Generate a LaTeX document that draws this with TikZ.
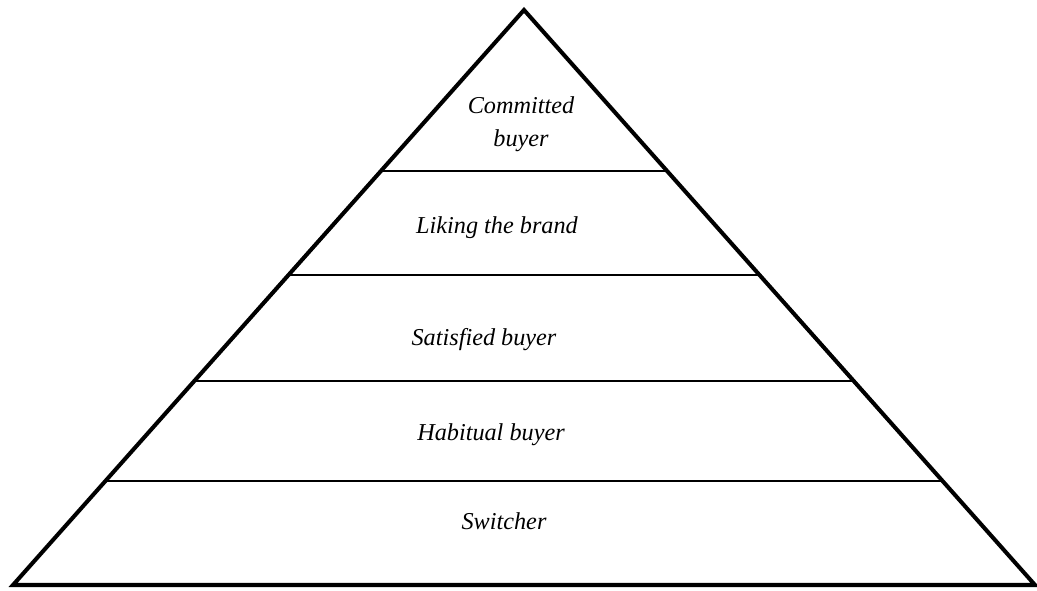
\documentclass[tikz,border=0pt]{standalone}
\usepackage{fontspec}
\setmainfont{Liberation Serif}
\usepackage{tikz}
\usetikzlibrary{calc}

\begin{document}
\begin{tikzpicture}[x=0.02cm, y=-0.02cm, every node/.style={font=\fontsize{13.8}{18.5}\selectfont\itshape, align=center, inner sep=0pt}]
\useasboundingbox (0,0) rectangle (1037,591);
\coordinate (top) at (524,10);
\coordinate (bl) at (13,585);
\coordinate (br) at (1035,585);

\draw[line width=2.3pt, line join=miter] (top)--(bl)--(br)--cycle;
\draw[line width=1.1pt] ($(top)!0.280!(bl)$)--($(top)!0.280!(br)$);
\draw[line width=1.1pt] ($(top)!0.461!(bl)$)--($(top)!0.461!(br)$);
\draw[line width=1.1pt] ($(top)!0.645!(bl)$)--($(top)!0.645!(br)$);
\draw[line width=1.1pt] ($(top)!0.819!(bl)$)--($(top)!0.819!(br)$);

\node (committed) at (521,124) {Committed\\buyer};
\node (liking) at (497,228) {Liking the brand};
\node (satisfied) at (484,340) {Satisfied buyer};
\node (habitual) at (491,435) {Habitual buyer};
\node (switcher) at (504,521) {Switcher};
\end{tikzpicture}
\end{document}
